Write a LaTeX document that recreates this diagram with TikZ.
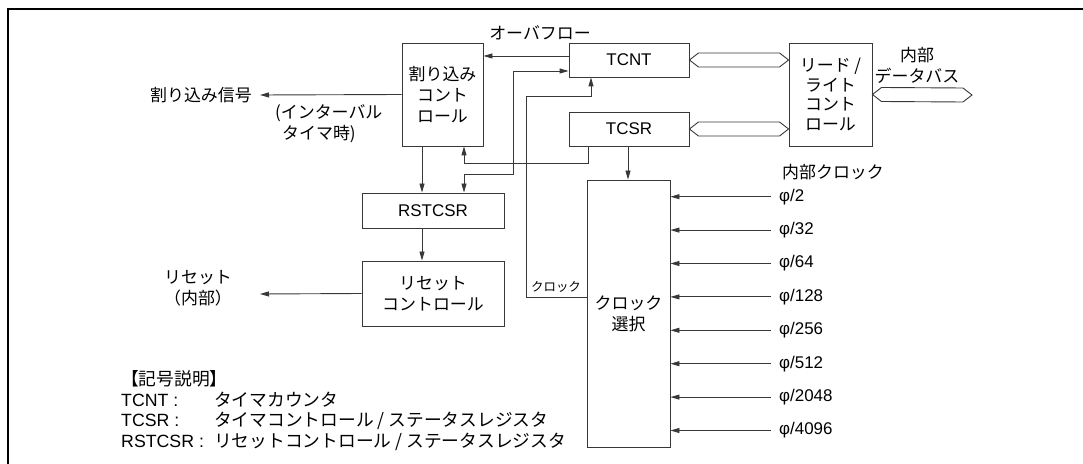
\documentclass[tikz,border=0pt]{standalone}
\usepackage{fontspec}
\setmainfont{Noto Sans CJK JP}
\newfontfamily\lat{Liberation Sans}
\usetikzlibrary{arrows.meta,positioning,calc}
\definecolor{lc}{gray}{0.22}
\newcommand{\dfont}{\fontsize{17}{21}\selectfont}
\newcommand{\sfont}{\fontsize{12.5}{15}\selectfont}
% hollow bus arrow between two points on one line
\newcommand{\busline}[2]{\draw[bus] (#1) -- ($(#1)+(9,-7)$) -- ($(#2)+(-9,-7)$) -- (#2) -- ($(#2)+(-9,7)$) -- ($(#1)+(9,7)$) -- cycle;}

\begin{document}
\begin{tikzpicture}[x=1bp,y=-1bp,
 font=\dfont,
 box/.style={draw=lc,line width=0.9bp,align=center,inner sep=0pt},
 arr/.style={-{Triangle[length=9bp,width=5bp]},draw=lc,line width=0.9bp},
 dbl/.style={{Triangle[length=9bp,width=5bp]}-{Triangle[length=9bp,width=5bp]},draw=lc,line width=0.9bp},
 bus/.style={draw=lc,line width=0.9bp},
 lbl/.style={inner sep=1bp,align=center}
]
\useasboundingbox (0,0) rectangle (1083,464);
\draw[line width=2.5bp] (1083,9) -- (8,9) -- (8,464);

% blocks
\node[box,minimum width=81bp,minimum height=103bp] (intc) at (442.5,94.5) {割り込み\\コント\\ロール};
\node[box,minimum width=120bp,minimum height=34bp] (tcnt) at (629,60) {\lat TCNT};
\node[box,minimum width=120bp,minimum height=34bp] (tcsr) at (629,129) {\lat TCSR};
\node[box,minimum width=83bp,minimum height=103bp,font=\fontsize{17}{20}\selectfont] (rw) at (830.5,94.5) {リード /\\ライト\\コント\\ロール};
\node[box,minimum width=142bp,minimum height=35bp] (rstcsr) at (433,210.5) {\lat RSTCSR};
\node[box,minimum width=142bp,minimum height=65bp] (rstc) at (433,293.5) {リセット\\コントロール};
\node[box,minimum width=83bp,minimum height=267bp] (clk) at (628.5,313.5) {クロック\\選択};

% labels
\node[lbl] (ovflbl) at (540,33) {オーバフロー};
\coordinate (irqout) at (260,95);
\node[lbl,anchor=east] (irqlbl) at (253,95) {割り込み信号};
\node[lbl,anchor=west,align=left] (itvlbl) at (274,124) {(インターバル\\\hspace*{7bp}タイマ時)};
\coordinate (rstout) at (260,294);
\node[lbl] (rstlbl) at (198,288) {リセット\\（内部）};
\node[lbl] (dbuslbl) at (917,65) {内部\\データバス};
\coordinate (dbus) at (972,95);
\node[lbl,anchor=west] (iclklbl) at (781,172) {内部クロック};
\node[lbl,font=\sfont] (clklbl) at (556,287) {クロック};
\node[lbl,anchor=west,align=left,font=\fontsize{17.8}{20}\selectfont] (legend) at (120,412) {%
 \begin{tabular}{@{}l@{}l@{}}
 \multicolumn{2}{@{}l@{}}{【記号説明】}\\
 \makebox[93bp][l]{\lat TCNT :} & タイマカウンタ\\
 \makebox[93bp][l]{\lat TCSR :} & タイマコントロール / ステータスレジスタ\\
 \makebox[93bp][l]{\lat RSTCSR :} & リセットコントロール / ステータスレジスタ
 \end{tabular}};

% connectors
\coordinate (ovf) at ($(tcnt.west)+(0,-4)$);
\draw[arr] (ovf) -- (ovf -| intc.east);
\draw[arr] (intc.west) -- (irqout);
\draw[arr] (intc.south -| 422,0) -- (rstcsr.north -| 422,0);
\draw[arr] (rstcsr.south -| 422,0) -- (rstc.north -| 422,0);
\draw[arr] (rstc.west) -- (rstout);
\draw[arr] (tcsr.south -| 588,0) -- ++(0,17) -| (intc.south -| 464,0);
\draw[dbl] (tcnt.west |- 0,71) -| (513,174) -| (rstcsr.north -| 464,0);
\draw[arr] (clk.west |- 0,297) -| (526,96) -| (tcnt.south -| 591,0);
\draw[arr] (tcsr.south -| 628,0) -- (clk.north -| 628,0);

% buses
\coordinate (rwa) at (rw.west |- tcnt.east);
\coordinate (rwb) at (rw.west |- tcsr.east);
\busline{tcnt.east}{rwa}
\busline{tcsr.east}{rwb}
\busline{rw.east}{dbus}

% clock inputs
\foreach \dv [count=\i] in {2,32,64,128,256,512,2048,4096}{
 \node[anchor=west,inner sep=1bp] (phi\i) at (778,163.3+33.4*\i) {\lat φ/\dv};
 \draw[arr] ([xshift=-7bp]phi\i.west) -- (clk.east |- phi\i.west);
}
\end{tikzpicture}
\end{document}
